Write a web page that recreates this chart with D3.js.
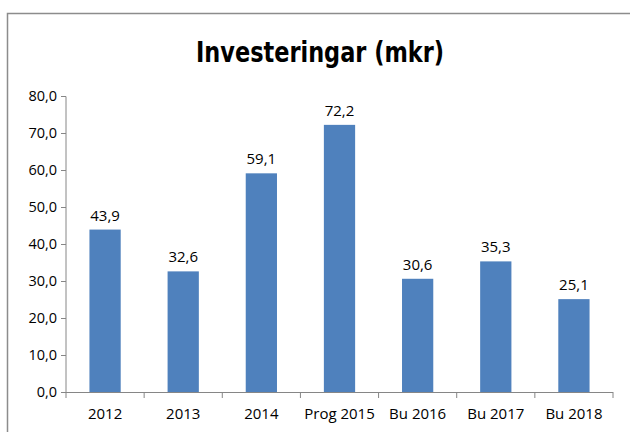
<!DOCTYPE html>
<html><head><meta charset="utf-8">
<script src="https://cdn.jsdelivr.net/npm/d3@7"></script>
<style>body{margin:0;background:#fff}svg{display:block}</style>
</head><body>
<script>
const categories = ["2012","2013","2014","Prog 2015","Bu 2016","Bu 2017","Bu 2018"];
const values = [43.9,32.6,59.1,72.2,30.6,35.3,25.1];
const yTicks = [0,10,20,30,40,50,60,70,80];
const title = "Investeringar (mkr)";

const W=630,H=432;
const svg=d3.select("body").append("svg").attr("width",W).attr("height",H);
const font="'Open Sans', Lato, sans-serif";
svg.append("rect").attr("x",7.5).attr("y",13.5).attr("width",800).attr("height",600)
  .attr("fill","#fff").attr("stroke","#8c8c8c").attr("stroke-width",1.5);

const x=d3.scaleBand().domain(categories).range([66,613]).paddingInner(0.6).paddingOuter(0.3);
const xb=d3.scaleBand().domain(categories).range([66,613]);
const y=d3.scaleLinear().domain([0,80]).range([392,96]);

svg.append("text").attr("x",320).attr("y",62).attr("text-anchor","middle")
  .attr("font-family","'DejaVu Sans Condensed','DejaVu Sans',sans-serif").attr("font-weight","bold")
  .attr("font-size",29).attr("textLength",248).attr("lengthAdjust","spacingAndGlyphs").text(title);

// y axis
const ya=svg.append("g").attr("transform","translate(66,0)")
  .call(d3.axisLeft(y).tickValues(yTicks).tickSize(5).tickFormat(d=>d3.format(".1f")(d).replace(".",",")));
ya.select(".domain").attr("stroke","#868686").attr("d","M0,96.5V392.5");
ya.selectAll(".tick line").attr("stroke","#868686");
ya.selectAll(".tick text").attr("font-family",font).attr("font-size",14.5).attr("fill","#000").attr("x",-9);

// bars
svg.selectAll("rect.bar").data(values).join("rect").attr("class","bar")
  .attr("x",(d,i)=>x(categories[i])).attr("width",x.bandwidth())
  .attr("y",d=>y(d)).attr("height",d=>y(0)-y(d)).attr("fill","#4f81bd");

svg.selectAll("text.lbl").data(values).join("text").attr("class","lbl")
  .attr("x",(d,i)=>x(categories[i])+x.bandwidth()/2).attr("y",d=>y(d)-9)
  .attr("text-anchor","middle").attr("font-family",font).attr("font-size",15)
  .text(d=>d3.format(".1f")(d).replace(".",","));

// x axis
const xa=svg.append("g").attr("transform","translate(0,392)")
  .call(d3.axisBottom(xb).tickSize(0).tickPadding(16));
xa.select(".domain").attr("stroke","#868686").attr("d","M66,0.5H613");
xa.selectAll(".tick text").attr("font-family",font).attr("font-size",15).attr("fill","#000");
xb.domain().concat(["end"]).forEach((c,i)=>{
  const px=66+i*xb.step();
  svg.append("line").attr("x1",px).attr("x2",px).attr("y1",392).attr("y2",398).attr("stroke","#868686");
});
</script>
</body></html>
